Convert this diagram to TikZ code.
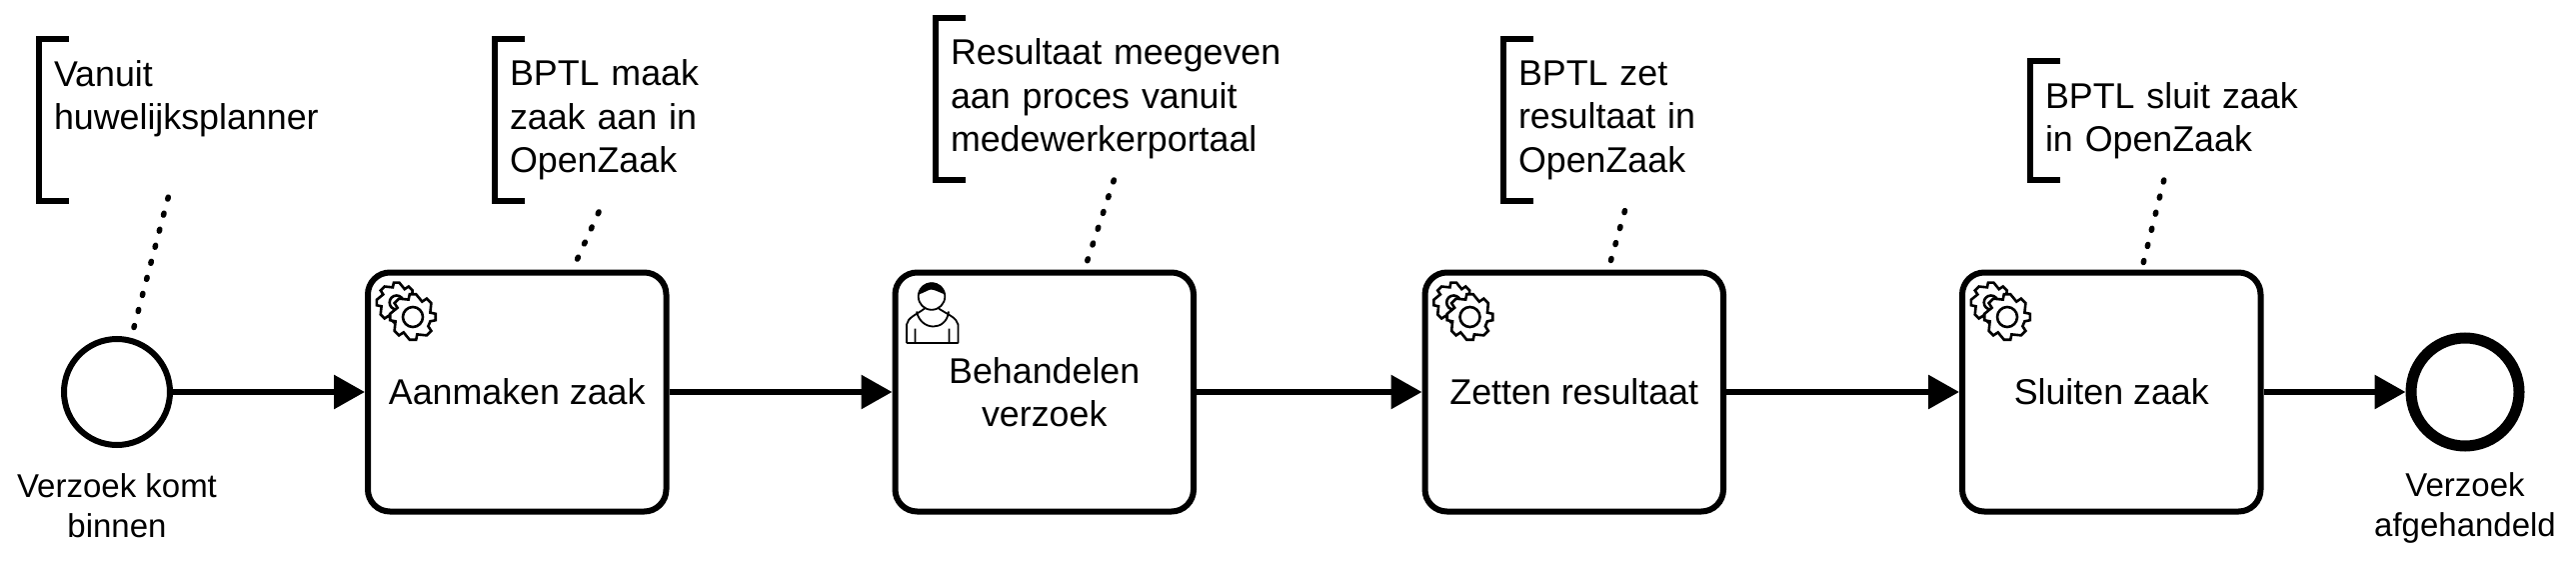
\documentclass[tikz,border=0pt]{standalone}
\usepackage{fontspec}
\setmainfont{Liberation Sans}
\usetikzlibrary{positioning,arrows.meta}
\tikzset{
	every node/.style={font=\fontsize{35.8}{43.5}\selectfont},
	task node/.style={rectangle,draw,line width=6pt,rounded corners=22pt,minimum width=298.5pt,minimum height=239pt,align=center},
	start node/.style={circle,draw,line width=6pt,minimum size=106pt,inner sep=0pt},
	end node/.style={circle,draw,line width=11pt,minimum size=108pt,inner sep=0pt},
	event label/.style={font=\fontsize{33}{40}\selectfont,align=center},
	note node/.style={rectangle,text width=#1,inner xsep=15pt,inner ysep=0pt,outer sep=0pt,align=left},
	bracket/.style={line width=6pt,line cap=butt,line join=miter},
	flow/.style={line width=6pt,-{Triangle[length=31pt,width=33pt]}},
	assoc/.style={line width=5.5pt,line cap=round,dash pattern=on 2pt off 14.6pt,shorten >=7pt},
	pics/gearwheel/.style n args={2}{code={
		\draw[fill=white,line width=2.6pt,line join=miter] (-14:.78*#1pt)
		\foreach \a in {0,45,...,315} { -- (\a-8:#1pt) -- (\a+8:#1pt) -- (\a+14:.78*#1pt) } -- cycle
		(0,0) circle (#2pt);
	}},
	pics/gears/.style={code={
		\pic at (31.7,33) {gearwheel={20}{7}};
		\pic at (48,47.5) {gearwheel={23}{10}};
	}},
	pics/person/.style={code={
		\draw[line width=1.8pt,fill=white] (37,27) circle (13.3pt);
		\fill (23.7,25) .. controls (24,9) and (50,9) .. (50.3,25) .. controls (45,23) and (40,20) .. (36,20) .. controls (32,21) and (28,24) .. (23.7,25) -- cycle;
		\draw[line width=1.8pt,line join=round] (12,73.5) -- (12,55) .. controls (13,48) and (22,45) .. (30,39)
		(63.5,73.5) -- (63.5,55) .. controls (62,48) and (53,45) .. (44,39)
		(12,73.5) -- (63.5,73.5)
		(22,42) .. controls (26,62) and (52,62) .. (54,42)
		(20.5,59) -- (20.5,73.5)
		(54.5,59) -- (54.5,73.5);
	}},
}
\begin{document}
\begin{tikzpicture}[x=1pt,y=-1pt]
	\useasboundingbox (0,0) rectangle (2577,567);

	\node[start node] (start) at (117,392) {};
	\node[task node] (task1) [right = 192pt of start] {Aanmaken zaak};
	\node[task node] (task2) [right = 223pt of task1] {Behandelen\\verzoek};
	\node[task node] (task3) [right = 225.5pt of task2] {Zetten resultaat};
	\node[task node] (task4) [right = 233pt of task3] {Sluiten zaak};
	\node[end node] (end) at (2466,392) {};

	\node[event label] (startlabel) [below = 22pt of start] {Verzoek komt\\binnen};
	\node[event label] (endlabel) [below = 18pt of end] {Verzoek\\afgehandeld};

	\pic at (task1.north west) {gears};
	\pic at ([xshift=2.5pt]task2.north west) {person};
	\pic at (task3.north west) {gears};
	\pic at (task4.north west) {gears};

	\node[note node=269pt,minimum height=162pt] (note1) at (188.5,120) {Vanuit\\huwelijksplanner\\\rule[-6.5pt]{0pt}{1pt}};
	\node[note node=262pt,minimum height=162pt] (note2) at (641,120) {BPTL maak\\zaak aan in\\OpenZaak};
	\node[note node=380pt,minimum height=162pt] (note3) at (1141,99) {Resultaat meegeven\\aan proces vanuit\\medewerkerportaal};
	\node[note node=264pt,minimum height=162pt] (note4) at (1651,120) {BPTL zet\\resultaat in\\OpenZaak};
	\node[note node=267pt,minimum height=119pt] (note5) at (2179.5,120.5) {BPTL sluit zaak\\in OpenZaak};

	\foreach \n in {note1,note2,note3,note4,note5}
		\draw[bracket] ([xshift=30pt]\n.north west) -- (\n.north west) -- (\n.south west) -- ([xshift=30pt]\n.south west);

	\path[draw,flow]
	(start) edge (task1)
	(task1) edge (task2)
	(task2) edge (task3)
	(task3) edge (task4)
	(task4) edge (end)
	;

	\path[draw,assoc]
	(note1) edge[shorten <=-4pt] (start)
	(note2) edge[shorten <=12pt] (task1)
	(note3) edge (task2)
	(note4) edge[shorten <=10pt] (task3)
	(note5) edge (task4)
	;
\end{tikzpicture}
\end{document}
